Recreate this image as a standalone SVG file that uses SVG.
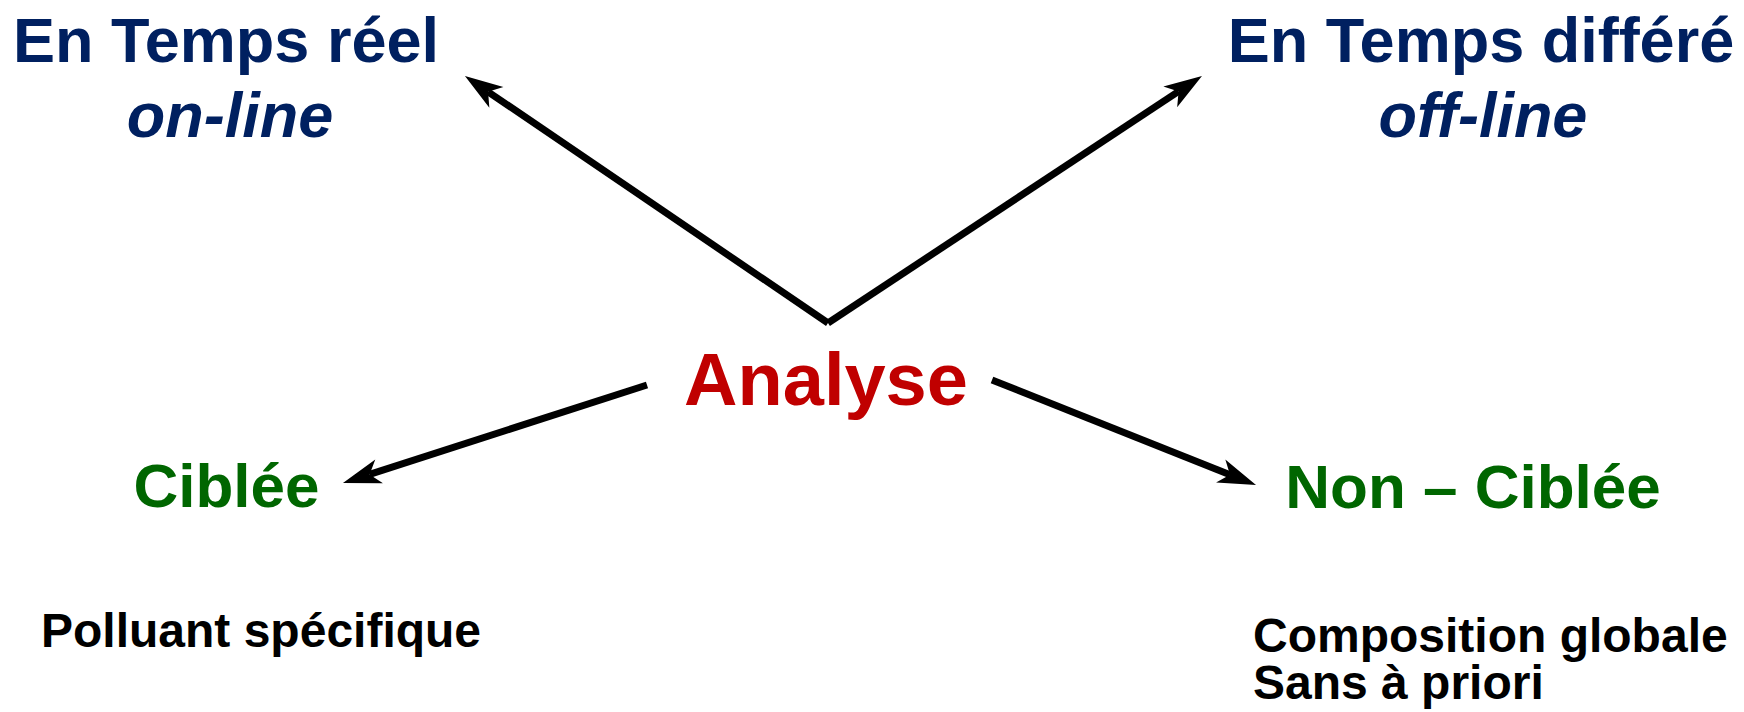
<svg xmlns="http://www.w3.org/2000/svg" width="1744" height="712" viewBox="0 0 1744 712">
  <style>
    text { font-family: "Liberation Sans", Arial, sans-serif; font-weight: bold; }
    .blue { fill: #002060; font-size: 63px; text-anchor: middle; }
    .ital { font-style: italic; }
    .red { fill: #C00000; font-size: 74px; text-anchor: middle; }
    .green { fill: #006600; font-size: 62px; text-anchor: middle; }
    .note { fill: #000000; font-size: 48px; }
    .conn { stroke: #000000; stroke-width: 7; fill: none; marker-end: url(#arrow); }
  </style>
  <defs>
    <marker id="arrow" markerUnits="userSpaceOnUse" markerWidth="60" markerHeight="40" refX="0" refY="0" orient="auto" overflow="visible">
      <path d="M28,0 L-10,-12.5 L0,0 L-10,12.5 Z" fill="#000000"/>
    </marker>
  </defs>
  <rect width="1744" height="712" fill="#ffffff"/>
  <g id="connectors">
    <line class="conn" x1="828" y1="323" x2="488.1" y2="91.8"/>
    <line class="conn" x1="828" y1="323" x2="1178.6" y2="91.4"/>
    <line class="conn" x1="647" y1="385" x2="369.6" y2="474.4"/>
    <line class="conn" x1="992" y1="380" x2="1230" y2="474.7"/>
  </g>
  <g id="node-temps-reel">
    <text class="blue" x="226" y="62">En Temps réel</text>
    <text class="blue ital" x="230" y="137">on-line</text>
  </g>
  <g id="node-temps-differe">
    <text class="blue" x="1481" y="62">En Temps différé</text>
    <text class="blue ital" x="1483" y="137">off-line</text>
  </g>
  <g id="node-analyse">
    <text class="red" x="826" y="405">Analyse</text>
  </g>
  <g id="node-ciblee">
    <text class="green" x="226.5" y="507">Ciblée</text>
  </g>
  <g id="node-non-ciblee">
    <text class="green" x="1473" y="508">Non – Ciblée</text>
  </g>
  <g id="note-polluant">
    <text class="note" x="41" y="647">Polluant spécifique</text>
  </g>
  <g id="note-composition">
    <text class="note" x="1253" y="652">Composition globale<tspan x="1253" y="699">Sans à priori</tspan></text>
  </g>
</svg>
